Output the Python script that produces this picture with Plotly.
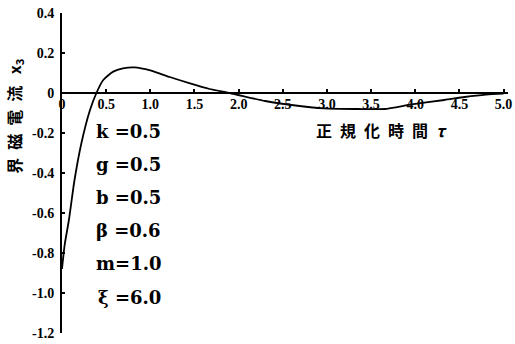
import plotly.graph_objects as go

# normalized time and field current x3
tau = [0, 0.03, 0.08, 0.14, 0.22, 0.317, 0.39, 0.467, 0.58, 0.69, 0.82, 1.0,
       1.22, 1.45, 1.67, 1.9, 2.3, 2.6, 2.97, 3.35, 3.65, 3.96, 4.33, 4.56,
       4.8, 5.0]
x3 = [-0.88, -0.76, -0.63, -0.44, -0.25, -0.085, 0, 0.065, 0.107, 0.123,
      0.128, 0.113, 0.08, 0.048, 0.02, 0, -0.04, -0.06, -0.077, -0.08,
      -0.08, -0.057, -0.035, -0.02, -0.008, -0.003]

x_ticks = [0, 0.5, 1.0, 1.5, 2.0, 2.5, 3.0, 3.5, 4.0, 4.5, 5.0]
x_tick_text = ["0", "0.5", "1.0", "1.5", "2.0", "2.5", "3.0", "3.5", "4.0", "4.5", "5.0"]
y_ticks = [0.4, 0.2, 0, -0.2, -0.4, -0.6, -0.8, -1.0, -1.2]
y_tick_text = ["0.4", "0.2", "0", "-0.2", "-0.4", "-0.6", "-0.8", "-1.0", "-1.2"]

params = ["k =0.5", "g =0.5", "b =0.5", "β =0.6", "m=1.0", "ξ =6.0"]

tick_font = dict(family="Liberation Serif, serif", size=14, color="black", weight="bold")
cjk_font = dict(family="Noto Sans CJK JP", size=16, color="black", weight="bold")

fig = go.Figure(go.Scatter(
    x=tau, y=x3,
    mode="lines",
    line=dict(color="black", width=1.8, shape="spline", smoothing=0.6),
    showlegend=False,
))

fig.update_layout(
    width=515, height=344,
    margin=dict(l=62, r=7, t=13, b=11),
    paper_bgcolor="white",
    plot_bgcolor="white",
    xaxis=dict(
        range=[0, 5.05], automargin=False,
        anchor="free", position=0.75,
        showline=True, linecolor="black", linewidth=1.5,
        showgrid=False, zeroline=False,
        tickvals=x_ticks, ticktext=x_tick_text,
        ticks="inside", ticklen=3, tickwidth=2, tickcolor="black",
        ticklabelstandoff=-2,
        tickfont=tick_font,
    ),
    yaxis=dict(
        range=[-1.2, 0.4], automargin=False,
        showline=True, linecolor="black", linewidth=2,
        showgrid=False, zeroline=False,
        tickvals=y_ticks, ticktext=y_tick_text,
        ticks="inside", ticklen=3, tickwidth=2, tickcolor="black",
        ticklabelstandoff=3,
        tickfont=tick_font,
    ),
)

# parameter list
for i, p in enumerate(params):
    fig.add_annotation(
        x=1.14, y=-0.19 - i * 0.166, xref="x", yref="y",
        text=p, showarrow=False, xanchor="right", yanchor="middle",
        font=dict(family="DejaVu Serif", size=18, color="black", weight="bold"),
    )

# axis titles
fig.add_annotation(
    x=3.62, y=-0.185, xref="x", yref="y",
    text="正\u2002規\u2002化\u2002時\u2002間\u2002<i>τ</i>",
    showarrow=False, xanchor="center", yanchor="middle",
    font=cjk_font,
)
fig.add_annotation(
    x=-0.108, y=-0.115, xref="paper", yref="y",
    text="界\u2002磁\u2002電\u2002流\u2002 x<sub>3</sub>",
    textangle=-90, showarrow=False, xanchor="center", yanchor="middle",
    font=cjk_font,
)

# drop the browser's default page margin so the figure sits at the corner
fig.write_html(
    "out.html",
    config={"displayModeBar": False},
    post_script="document.body.style.margin='0';",
)
